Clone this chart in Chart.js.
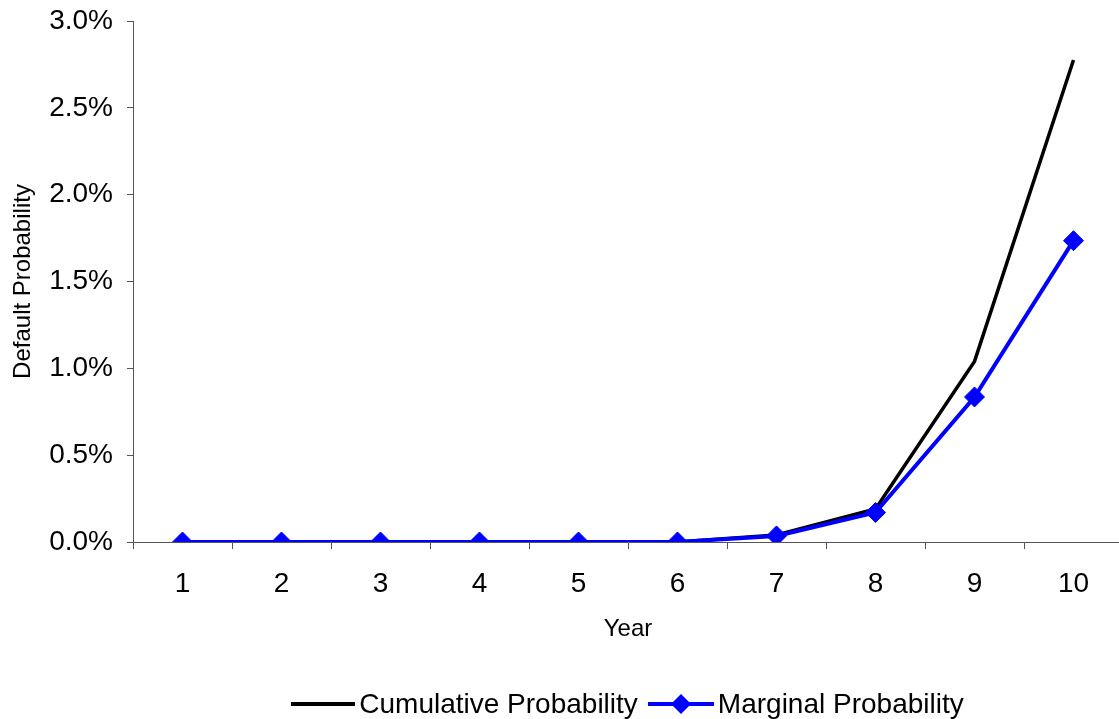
<!DOCTYPE html>
<html lang="en">
<head>
  <meta charset="UTF-8" />
  <title>Default Probability by Year</title>
  <script src="https://cdn.jsdelivr.net/npm/chart.js"></script>
  <style>
    html, body { margin: 0; padding: 0; background: #fff; overflow: hidden; }
    #wrap { position: relative; width: 1119px; height: 719px; overflow: hidden; }
    #chart { position: absolute; left: 0; top: 0; }
    #legend {
      position: absolute; left: 133px; width: 989px; top: 688px;
      display: flex; justify-content: center; align-items: center;
      font-family: "Liberation Sans", Arial, sans-serif; font-size: 28px; color: #000;
    }
    .item { display: flex; align-items: center; margin: 0 5px; }
    .item svg { margin-right: 4px; }
  </style>
</head>
<body>
  <div id="wrap">
    <canvas id="chart" width="1134" height="719" style="width:1134px;height:719px"></canvas>
    <div id="legend">
      <div class="item">
        <svg width="64" height="22"><line x1="0" y1="11" x2="64" y2="11" stroke="#000" stroke-width="4"/></svg>
        <span>Cumulative Probability</span>
      </div>
      <div class="item">
        <svg width="66" height="22"><line x1="0" y1="11" x2="66" y2="11" stroke="#0000ff" stroke-width="4"/><polygon points="33,1 43,11 33,21 23,11" fill="#0000ff"/></svg>
        <span>Marginal Probability</span>
      </div>
    </div>
  </div>

  <script>
    // years and default probabilities (in %)
    const years = ["1", "2", "3", "4", "5", "6", "7", "8", "9", "10"];
    const cumulative = [0, 0, 0, 0, 0, 0, 0.04, 0.19, 1.04, 2.775];
    const marginal = [0, 0, 0, 0, 0, 0, 0.035, 0.17, 0.835, 1.735];
    const yTicks = [0, 0.5, 1, 1.5, 2, 2.5, 3];

    const FONT = "'Liberation Sans', Arial, sans-serif";
    const AXIS = "#555555";

    new Chart(document.getElementById("chart"), {
      type: "line",
      data: {
        labels: years,
        datasets: [
          {
            label: "Cumulative Probability",
            data: cumulative,
            borderColor: "#000000",
            borderWidth: 3.5,
            pointRadius: 0,
            tension: 0,
            order: 1
          },
          {
            label: "Marginal Probability",
            data: marginal,
            borderColor: "#0000ff",
            backgroundColor: "#0000ff",
            borderWidth: 4,
            pointStyle: "rectRot",
            pointRadius: 10,
            pointBorderWidth: 1,
            tension: 0,
            order: 0
          }
        ]
      },
      options: {
        responsive: false,
        animation: false,
        layout: { padding: { left: 5, right: 0, top: 21, bottom: 71 } },
        plugins: { legend: { display: false }, tooltip: { enabled: false } },
        scales: {
          x: {
            offset: true,
            grid: { offset: true, drawOnChartArea: false, tickLength: 7, color: AXIS },
            border: { color: AXIS, width: 1 },
            ticks: { color: "#000", font: { family: FONT, size: 28 }, padding: 18, maxRotation: 0 },
            title: { display: true, text: "Year", color: "#000", font: { family: FONT, size: 24 } },
            afterFit: s => { s.height = 106; }
          },
          y: {
            min: 0,
            max: 3,
            afterBuildTicks: s => { s.ticks = yTicks.map(v => ({ value: v })); },
            grid: { drawOnChartArea: false, tickLength: 6, color: AXIS },
            border: { color: AXIS, width: 1 },
            ticks: {
              color: "#000",
              font: { family: FONT, size: 28 },
              padding: 14,
              callback: v => v.toFixed(1) + "%"
            },
            title: { display: true, text: "Default Probability", color: "#000", font: { family: FONT, size: 24 } },
            // fixed axis band; top label may overhang the plot edge
            afterFit: s => { s.width = 128; s.paddingTop = 0; s.paddingBottom = 0; }
          }
        }
      }
    });
  </script>
</body>
</html>
